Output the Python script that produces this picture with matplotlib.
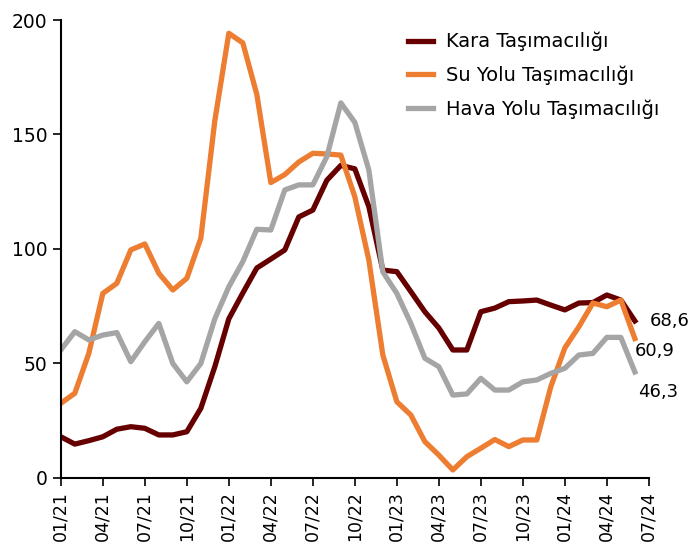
import numpy as np
import matplotlib
matplotlib.use('Agg')
import matplotlib.pyplot as plt

# monthly index values, 01/21 - 06/24
kara = [18.0, 14.8, 16.3, 18.0, 21.3, 22.4, 21.7, 18.8, 18.8, 20.2, 30.4, 48.6,
        69.5, 80.8, 91.7, 95.6, 99.6, 114.0, 117.0, 130.0, 136.5, 135.0, 118.5, 90.8,
        90.1, 81.4, 72.6, 65.5, 55.9, 55.9, 72.6, 74.2, 77.0, 77.3, 77.7, 75.5,
        73.4, 76.4, 76.6, 79.9, 77.7, 68.6]
su_yolu = [32.6, 37.0, 54.4, 80.6, 85.0, 99.6, 102.2, 89.4, 82.1, 87.2, 104.7, 156.0,
           194.2, 190.0, 167.5, 129.0, 132.5, 138.0, 141.8, 141.5, 141.0, 122.8, 95.2, 53.7,
           33.3, 27.5, 15.9, 10.0, 3.5, 9.3, 13.0, 16.8, 13.7, 16.6, 16.6, 39.9,
           56.8, 66.0, 76.4, 74.8, 77.7, 60.9]
hava_yolu = [55.9, 63.9, 60.3, 62.4, 63.5, 50.8, 59.5, 67.5, 50.0, 42.0, 50.0, 69.5,
             83.5, 94.5, 108.6, 108.3, 125.8, 128.0, 128.0, 140.3, 163.8, 155.3, 134.5, 90.0,
             80.6, 67.5, 52.3, 48.6, 36.2, 36.7, 43.5, 38.4, 38.4, 42.0, 42.8, 45.7,
             47.9, 53.7, 54.4, 61.4, 61.4, 46.3]

tick_labels = ['01/21', '04/21', '07/21', '10/21', '01/22', '04/22', '07/22', '10/22',
               '01/23', '04/23', '07/23', '10/23', '01/24', '04/24', '07/24']

x = np.arange(len(kara))

fig = plt.figure(figsize=(6.91, 5.51), dpi=100)
ax = fig.add_axes([0.088, 0.1325, 0.851, 0.8312])

ax.plot(x, kara, color='#660000', lw=3.8, label='Kara Taşımacılığı')
ax.plot(x, su_yolu, color='#ED7D31', lw=3.8, label='Su Yolu Taşımacılığı')
ax.plot(x, hava_yolu, color='#A5A5A5', lw=3.8, label='Hava Yolu Taşımacılığı')

# end labels
ax.annotate('68,6', (x[-1], kara[-1]), xytext=(15, 0), textcoords='offset pixels',
            ha='left', va='center', fontsize=13)
ax.annotate('60,9', (x[-1], su_yolu[-1]), xytext=(0, -12), textcoords='offset pixels',
            ha='left', va='center', fontsize=13)
ax.annotate('46,3', (x[-1], hava_yolu[-1]), xytext=(3, -20), textcoords='offset pixels',
            ha='left', va='center', fontsize=13)

ax.set_xlim(0, 42)
ax.set_ylim(0, 200)
ax.set_xticks(np.arange(0, 43, 3))
ax.set_xticklabels(tick_labels, rotation=90, fontsize=12.5)
ax.set_yticks([0, 50, 100, 150, 200])
ax.tick_params(axis='y', labelsize=13.5, length=6, width=1.2)
ax.tick_params(axis='x', length=6, width=1.2)

for s in ['top', 'right']:
    ax.spines[s].set_visible(False)
for s in ['left', 'bottom']:
    ax.spines[s].set_linewidth(1.5)

ax.legend(loc='upper left', bbox_to_anchor=(0.5765, 0.991), borderaxespad=0,
          frameon=False, fontsize=14, handlelength=1.3, handletextpad=0.7,
          labelspacing=0.73)

fig.savefig('out.png', dpi=100)
